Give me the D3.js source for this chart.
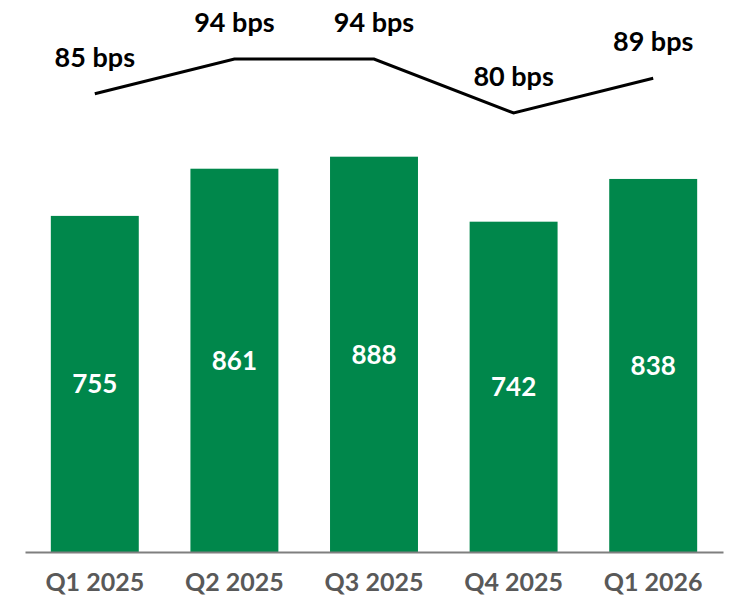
<!DOCTYPE html>
<html>
<head>
<meta charset="utf-8">
<style>
  body { margin: 0; background: #fff; }
  text { font-family: Lato, "Open Sans", sans-serif; font-weight: 700; }
</style>
</head>
<body>
<svg width="730" height="597"></svg>
<script src="https://cdn.jsdelivr.net/npm/d3@7/dist/d3.min.js"></script>
<script>
// chart values
const quarters = ['Q1 2025', 'Q2 2025', 'Q3 2025', 'Q4 2025', 'Q1 2026'];
const barValues = [755, 861, 888, 742, 838];
const bpsValues = [85, 94, 94, 80, 89];

const svg = d3.select('svg');
const green = '#00874b';

// scales
const x = d3.scaleBand().domain(quarters).range([25, 723]).paddingInner(0.37).paddingOuter(0.185);
const y = d3.scaleLinear().domain([0, 1240]).range([552, 0]);
const yLine = d3.scaleLinear().domain([80, 94]).range([113, 59]);

// bars
svg.selectAll('rect.bar')
  .data(quarters).enter()
  .append('rect')
  .attr('class', 'bar')
  .attr('x', d => x(d))
  .attr('width', x.bandwidth())
  .attr('y', (d, i) => y(barValues[i]))
  .attr('height', (d, i) => y(0) - y(barValues[i]))
  .attr('fill', green);

// bar value labels
svg.selectAll('text.val')
  .data(quarters).enter()
  .append('text')
  .attr('class', 'val')
  .attr('x', d => x(d) + x.bandwidth() / 2)
  .attr('y', (d, i) => (y(barValues[i]) + y(0)) / 2)
  .attr('dy', '0.36em')
  .attr('text-anchor', 'middle')
  .attr('fill', '#fff')
  .style('font-size', '26px')
  .text((d, i) => barValues[i]);

// x axis
const xAxis = d3.axisBottom(x).tickSize(0).tickPadding(21);
const gx = svg.append('g').attr('transform', 'translate(0,' + y(0) + ')').call(xAxis);
gx.select('.domain').attr('stroke', '#7f7f7f').attr('stroke-width', 2);
gx.selectAll('text')
  .attr('fill', '#595959')
  .style('font-size', '25px')
  .style('font-family', 'Lato, sans-serif')
  .style('font-weight', 700);

// bps line
const line = d3.line()
  .x(d => x(d) + x.bandwidth() / 2)
  .y((d, i) => yLine(bpsValues[i]));
svg.append('path')
  .datum(quarters)
  .attr('fill', 'none')
  .attr('stroke', '#000')
  .attr('stroke-width', 3)
  .attr('d', line);

svg.selectAll('text.bps')
  .data(quarters).enter()
  .append('text')
  .attr('class', 'bps')
  .attr('x', d => x(d) + x.bandwidth() / 2)
  .attr('y', (d, i) => yLine(bpsValues[i]) - 27)
  .attr('text-anchor', 'middle')
  .attr('fill', '#000')
  .style('font-size', '27px')
  .text((d, i) => bpsValues[i] + ' bps');
</script>
</body>
</html>
